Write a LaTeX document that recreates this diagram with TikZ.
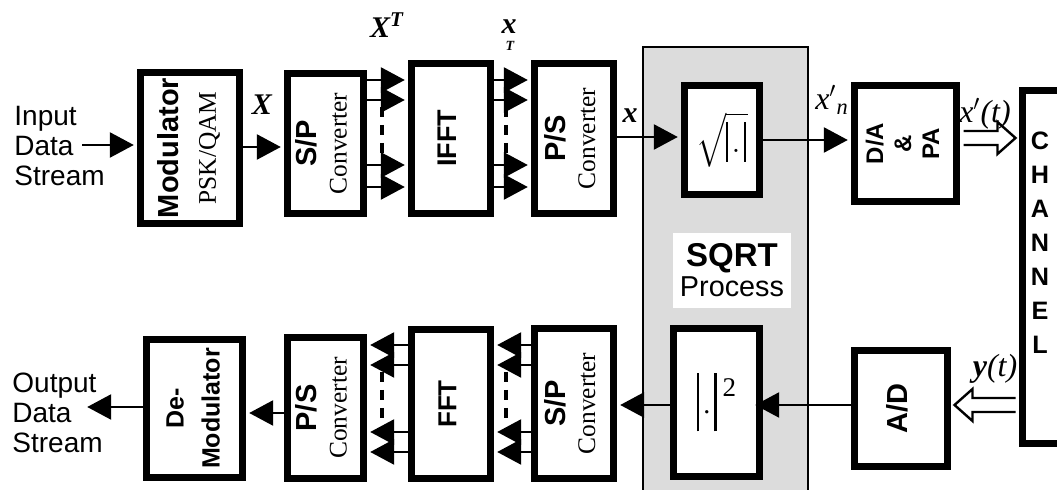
\documentclass[tikz,border=0pt]{standalone}
\usepackage{fontspec}
\setmainfont{Liberation Serif}
\setsansfont{Liberation Sans}
\usepackage{graphicx}
\usetikzlibrary{positioning,arrows.meta,calc}
\definecolor{procgray}{HTML}{DCDCDC}

\newcommand{\bsf}[1]{\fontsize{#1}{#1}\selectfont\sffamily\bfseries}
\newcommand{\upbox}[1]{\rotatebox{90}{\begin{tabular}{@{}c@{}}#1\end{tabular}}}
% hollow arrow: start, tip, head length (negative when pointing left)
\newcommand{\hollowarr}[3]{%
  \draw[line width=1.2pt, line join=miter] ($(#1)+(0,-7)$) -- ($(#2)+({-1*(#3)},-7)$) -- ($(#2)+({-1*(#3)},-16)$)
    -- (#2) -- ($(#2)+({-1*(#3)},16)$) -- ($(#2)+({-1*(#3)},7)$) -- ($(#1)+(0,7)$);}

\tikzset{
  blk/.style={draw, line width=3.5pt, fill=white, inner sep=0pt},
  arr/.style={line width=1.3pt, shorten >=1.6pt, -{Triangle[length=12pt,width=12.5pt]}},
  dots/.style={line width=2pt, dash pattern=on 5pt off 4pt},
  txt/.style={inner sep=0pt, align=left, font=\fontsize{14}{15}\selectfont\sffamily},
  mlbl/.style={font=\fontsize{15}{17}\selectfont\bfseries\itshape},
  tlbl/.style={font=\fontsize{16}{18}\selectfont\itshape},
}

\begin{document}
\begin{tikzpicture}[x=0.5pt,y=-0.5pt]
\useasboundingbox (0,0) rectangle (1057,490);
% SQRT process area
\draw[fill=procgray, line width=1pt] (643,47) rectangle (808,530);

% transmitter
\node[txt, anchor=west] (input) at (14,146) {Input\\Data\\Stream};
\node[blk, minimum width=49.5pt, minimum height=75.5pt, font=\fontsize{12}{18.5}\selectfont] (mod) at (190,148) {\upbox{{\bsf{14.5}Modulator}\\{\fontsize{12.7}{13}\selectfont PSK/QAM}}};
\node[blk, minimum width=38pt, minimum height=70pt, font=\fontsize{12}{15}\selectfont] (sp1) at (325.5,143.5) {\upbox{{\bsf{14.5}S/P}\\{\fontsize{12.7}{13}\selectfont Converter}}};
\node[blk, minimum width=39.5pt, minimum height=75pt] (ifft) at (451,138.5) {\upbox{\bsf{13.5}IFFT}};
\node[blk, minimum width=39.5pt, minimum height=75pt, font=\fontsize{12}{15}\selectfont] (ps1) at (574,138.5) {\upbox{{\bsf{14.5}P/S}\\{\fontsize{12.7}{13}\selectfont Converter}}};
\node[blk, minimum width=37.5pt, minimum height=54.5pt, font=\fontsize{10}{12}\selectfont] (sqb) at (722,140) {\scalebox{1.5}{$\sqrt{\rule[-3pt]{0.6pt}{13.3pt}\hspace{1.3pt}.\hspace{1.3pt}\rule[-3pt]{0.6pt}{13.3pt}\hspace{0.7pt}}$}};
\node[blk, minimum width=51pt, minimum height=58pt, font=\fontsize{12}{14}\selectfont\sffamily\bfseries] (dapa) at (905.5,143.5) {\upbox{D/A\\\&\\PA}};
\node[blk, minimum width=30pt, minimum height=176.5pt] (chan) at (1052.5,267) {};
\node[inner sep=0pt, anchor=north, align=center, font=\fontsize{12.6}{17}\selectfont\sffamily\bfseries] (chantxt) at (1040,132) {C\\H\\A\\N\\N\\E\\L};

% receiver
\node[fill=white, minimum width=59pt, minimum height=37.5pt, align=center, font=\fontsize{14.4}{15}\selectfont\sffamily] (sqlbl) at (732,270.5) {{\bsf{16.5}SQRT}\\Process};
\node[blk, minimum width=43pt, minimum height=74pt, font=\fontsize{14}{16}\selectfont] (sqr) at (716.5,402.5) {\rule[-9pt]{1.2pt}{29pt}\hspace{2pt}.\hspace{2pt}\rule[-9pt]{1.2pt}{29pt}\hspace{3pt}\raisebox{8.5pt}{\fontsize{13.5}{14}\selectfont 2}};
\node[blk, minimum width=46.5pt, minimum height=58pt] (ad) at (901,408.5) {\upbox{\bsf{14.5}A/D}};
\node[blk, minimum width=39.5pt, minimum height=75pt, font=\fontsize{12}{15}\selectfont] (sp2) at (574,403.5) {\upbox{{\bsf{14.5}S/P}\\{\fontsize{12.7}{13}\selectfont Converter}}};
\node[blk, minimum width=39.5pt, minimum height=74.5pt] (fft) at (451,404) {\upbox{\bsf{13}FFT}};
\node[blk, minimum width=38pt, minimum height=70.5pt, font=\fontsize{12}{15}\selectfont] (ps2) at (325.5,408) {\upbox{{\bsf{14.5}P/S}\\{\fontsize{12.7}{13}\selectfont Converter}}};
\node[blk, minimum width=48pt, minimum height=69pt, font=\fontsize{12.5}{18}\selectfont\sffamily\bfseries] (demod) at (194.5,408.5) {\upbox{De-\\Modulator}};
\node[txt, anchor=west] (output) at (12,413) {Output\\Data\\Stream};

% labels
\node[mlbl] (lX) at (262,105) {X};
\node[mlbl] (lXT) at (387,25) {X\textsuperscript{T}};
\node[mlbl] (lxT) at (509,27) {x};
\node[font=\fontsize{7}{8}\selectfont\bfseries\itshape] (lT) at (510,46) {T};
\node[mlbl] (lx) at (630,116) {x};
\node[tlbl] (lxn) at (832,100) {x$'$\textsubscript{n}};
\node[tlbl] (lxt) at (985,114) {x$'$(t)};
\node[tlbl] (lyt) at (995,369) {\textbf{y}(t)};

% connectors
\coordinate (instart) at (82,145);
\draw[arr] (instart) -- (instart -| mod.west);
\draw[arr] (mod.east |- 0,147) -- (sp1.west |- 0,147);
\foreach \yy in {80,100,165,187}{
  \draw[arr] (sp1.east |- 0,\yy) -- (ifft.west |- 0,\yy);
  \draw[arr] (ifft.east |- 0,\yy) -- (ps1.west |- 0,\yy);
}
\draw[dots] (382,107) -- (382,158);
\draw[dots] (506,107) -- (506,158);
\draw[arr] (ps1.east |- 0,137) -- (sqb.west |- 0,137);
\draw[arr] (sqb.east) -- (sqb.east -| dapa.west);
\coordinate (txs) at ($(dapa.east |- 0,138)+(3.5,0)$);
\coordinate (txe) at ($(chan.west |- 0,138)+(-3.5,0)$);
\hollowarr{txs}{txe}{18}
\coordinate (rxs) at ($(chan.west |- 0,405)+(-3.5,0)$);
\coordinate (rxe) at ($(ad.east |- 0,405)+(3.5,0)$);
\hollowarr{rxs}{rxe}{-18}
\coordinate (sqin) at (752,405);
\draw[arr] (ad.west |- sqin) -- (sqin);
\draw[arr] (sqr.west |- sqin) -- (sp2.east |- sqin);
\foreach \yy in {345,365,432,452}{
  \draw[arr] (sp2.west |- 0,\yy) -- (fft.east |- 0,\yy);
  \draw[arr] (fft.west |- 0,\yy) -- (ps2.east |- 0,\yy);
}
\draw[dots] (382,372) -- (382,425);
\draw[dots] (506,372) -- (506,425);
\draw[arr] (ps2.west |- 0,413) -- (demod.east |- 0,413);
\coordinate (outend) at (84,407);
\draw[arr] (demod.west |- outend) -- (outend);
\end{tikzpicture}
\end{document}
